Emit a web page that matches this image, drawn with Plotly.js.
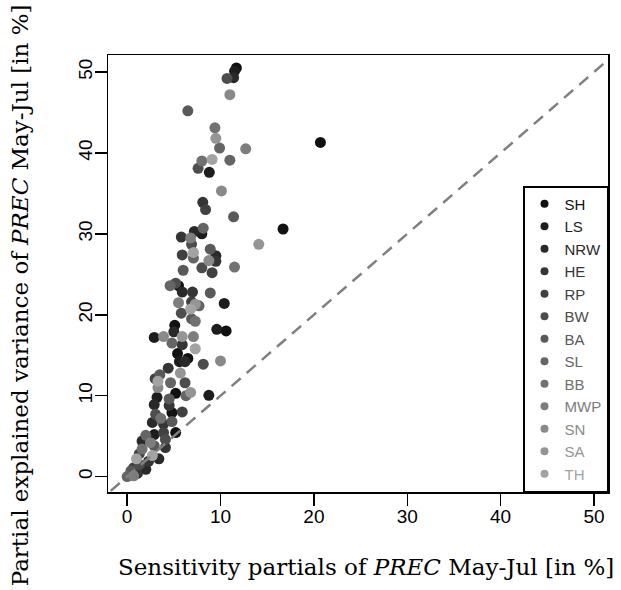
<!DOCTYPE html>
<html>
<head>
<meta charset="utf-8">
<script src="https://cdn.plot.ly/plotly-3.0.1.min.js"></script>
<style>html,body{margin:0;padding:0;background:#fff;}#chart{width:621px;height:590px;}</style>
</head>
<body>
<div id="chart"></div>
<script>
// Groups (legend order) and their grey shades
const groups = ["SH","LS","NRW","HE","RP","BW","BA","SL","BB","MWP","SN","SA","TH"];
const colors = ["#111111","#1d1d1d","#292929","#353535","#414141","#4d4d4d","#595959","#656565","#717171","#7d7d7d","#898989","#959595","#a3a3a3"];

// Sensitivity partials (x) and partial explained variance (y), per group, in %
const xSH  = [11.7,20.7,16.7,5.5,5.1,10.6,5.4,6.5,5.2,4.8,5.2];
const ySH  = [50.5,41.3,30.6,23.6,18.7,18.0,15.2,14.6,10.3,7.9,5.45];
const xLS  = [11.5,8.8,8.0,10.4,9.6,2.9,5.6,3.2,8.75,2.9];
const yLS  = [50.1,37.6,30.0,21.4,18.2,17.2,14.2,9.8,10.05,5.2];
const xNRW = [11.4,7.2,9.5,5.9,5.0,6.2,2.9,2.7,1.6,3.4,2.0];
const yNRW = [49.3,30.3,27.3,22.8,17.9,14.2,8.9,6.7,4.4,2.2,0.9];
const xHE  = [8.1,5.8,9.5,7.0,5.9,4.4,4.5,3.9,4.1,2.3,1.1];
const yHE  = [33.9,29.6,26.6,22.8,16.3,13.4,8.8,6.5,3.6,1.9,0.4];
const xRP  = [8.4,5.9,9.1,6.9,3.0,5.9,3.9,1.3,0.7];
const yRP  = [33.0,27.4,25.2,21.6,12.1,8.0,5.45,2.8,1.1];
const xBW  = [10.7,7.6,6.9,8.0,5.2,5.8,8.15,6.2,3.05,4.1,1.3];
const yBW  = [49.2,38.1,28.7,25.8,23.9,20.2,13.9,11.6,7.7,4.6,1.5];
const xBA  = [6.5,11.4,8.9,6.0,8.9,6.9,3.5,4.5,4.8,2.9,0.4];
const yBA  = [45.2,32.1,28.1,25.5,22.7,19.5,12.6,9.6,6.8,3.8,0.7];
const xSL  = [9.9,11.0,8.15,7.1,4.6,7.7,4.8,4.65,6.3,2.0,0.0];
const ySL  = [40.6,39.1,30.7,27.0,23.6,21.1,16.5,11.6,10.0,5.1,0.0];
const xBB  = [9.4,8.0,11.5,7.3,1.6,3.6];
const yBB  = [43.1,39.0,25.9,19.2,3.4,7.2];
const xMWP = [12.7,6.8,5.5,7.1,0.7,2.5];
const yMWP = [40.5,29.5,21.5,17.3,0.1,4.2];
const xSN  = [11.0,10.1,8.75,3.9,10.0,3.3];
const ySN  = [47.2,35.3,26.7,17.3,14.3,11.0];
const xSA  = [9.5,14.1,7.3,5.9,5.7,6.8];
const ySA  = [41.8,28.7,21.3,17.3,12.8,10.4];
const xTH  = [9.1,7.1,6.8,7.3,3.3,2.7,1.0];
const yTH  = [39.2,27.7,20.7,15.8,11.8,2.6,2.2];

// 1:1 reference line
const refLine = [-5, 60];

const xs = [xSH,xLS,xNRW,xHE,xRP,xBW,xBA,xSL,xBB,xMWP,xSN,xSA,xTH];
const ys = [ySH,yLS,yNRW,yHE,yRP,yBW,yBA,ySL,yBB,yMWP,ySN,ySA,yTH];

const traces = groups.map((g, i) => ({
  type: "scatter",
  mode: "markers",
  x: xs[i],
  y: ys[i],
  name: g,
  showlegend: false,
  marker: {color: colors[i], size: 11, line: {width: 0}},
  hoverinfo: "x+y"
}));

traces.push({
  type: "scatter",
  mode: "lines",
  x: refLine,
  y: refLine,
  showlegend: false,
  line: {color: "#808080", width: 2.5, dash: "12px,8px"},
  hoverinfo: "skip"
});

// legend entries (smaller symbols, coloured labels)
groups.forEach((g, i) => traces.push({
  type: "scatter",
  mode: "markers",
  x: [null],
  y: [null],
  name: '<span style="color:' + colors[i] + '">' + g + '</span>',
  marker: {color: colors[i], size: 8},
  hoverinfo: "skip"
}));

const tickFont = {family: "Liberation Sans, Arial, sans-serif", size: 19, color: "#000"};
const titleFont = {family: "DejaVu Serif, serif", size: 23, color: "#000"};

const layout = {
  width: 621,
  height: 590,
  margin: {l: 107.5, r: 13, t: 55, b: 97.5},
  paper_bgcolor: "#fff",
  plot_bgcolor: "#fff",
  showlegend: true,
  xaxis: {
    range: [-2.05, 51.5],
    tickvals: [0,10,20,30,40,50],
    ticks: "outside",
    ticklen: 12,
    tickwidth: 1.5,
    tickcolor: "#000",
    ticklabelstandoff: -5,
    showline: true,
    linecolor: "#000",
    linewidth: 1.5,
    mirror: true,
    showgrid: false,
    zeroline: false,
    tickfont: tickFont
  },
  yaxis: {
    range: [-1.9, 52.1],
    tickvals: [0,10,20,30,40,50],
    ticks: "outside",
    ticklen: 12,
    tickwidth: 1.5,
    tickcolor: "#000",
    tickangle: -90,
    ticklabelstandoff: -5,
    showline: true,
    linecolor: "#000",
    linewidth: 1.5,
    mirror: true,
    showgrid: false,
    zeroline: false,
    tickfont: tickFont
  },
  legend: {
    x: 1, xanchor: "right",
    y: 0, yanchor: "bottom",
    bgcolor: "#fff",
    bordercolor: "#000",
    borderwidth: 1.5,
    font: {family: "Liberation Sans, Arial, sans-serif", size: 15, color: "#000"},
    itemclick: false
  },
  annotations: [
    {
      xref: "paper", yref: "paper",
      x: (366 - 107.5) / 500.5, y: -(568 - 492.5) / 437.5,
      xanchor: "center", yanchor: "middle",
      showarrow: false,
      text: "Sensitivity partials of <i>PREC</i> May-Jul [in %]",
      font: titleFont
    },
    {
      xref: "paper", yref: "paper",
      x: -(107.5 - 19) / 500.5, y: (492.5 - 296) / 437.5,
      xanchor: "center", yanchor: "middle",
      textangle: -90,
      showarrow: false,
      text: "Partial explained variance of <i>PREC</i> May-Jul [in %]",
      font: titleFont
    }
  ]
};

Plotly.newPlot("chart", traces, layout, {displayModeBar: false, staticPlot: true});
</script>
</body>
</html>
